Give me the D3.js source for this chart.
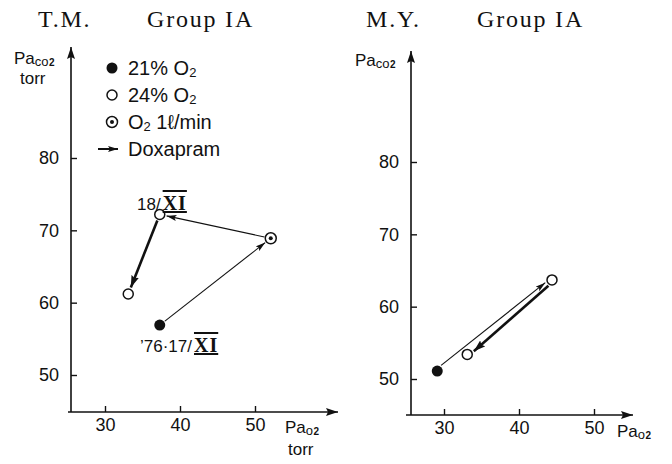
<!DOCTYPE html>
<html lang="en">
<head>
<meta charset="UTF-8">
<title>Group IA Paco2 vs Pao2</title>
<script src="https://d3js.org/d3.v7.min.js"></script>
<style>
    body { margin: 0; background: #fff; }
    svg { font-family: "Liberation Sans", Arial, sans-serif; }
    .tick text { font-size: 18px; fill: #111; }
    .title { font-family: "Liberation Serif", "Times New Roman", serif; font-size: 24px; letter-spacing: 1.8px; fill: #111; }
    .lbl { font-size: 17px; fill: #111; }
    .leg { font-size: 20px; fill: #111; }
</style>
</head>
<body>
<div id="chart"></div>
<script>
    // point data
    const leftKind = ["21", "o2", "24", "24"];
    const leftPao2 = [37.3, 52.1, 37.3, 33.1];
    const leftPaco2 = [56.9, 68.9, 72.2, 61.2];
    const leftArrows = ["thin", "thin", "thick"];

    const rightKind = ["21", "24", "24"];
    const rightPao2 = [29.1, 44.4, 33.1];
    const rightPaco2 = [51.1, 63.7, 53.4];
    const rightArrows = ["thin", "thick"];

    const xTicks = [30, 40, 50];
    const yTicks = [50, 60, 70, 80];

    const legendItems = [
        {kind: "21", text: "21% O", sub: "2"},
        {kind: "24", text: "24% O", sub: "2"},
        {kind: "o2", text: "O", sub: "2", after: " 1ℓ/min"},
        {kind: "arrow", text: "Doxapram"}
    ];

    const width = 672, height = 464;
    const svg = d3.select("#chart").append("svg")
        .attr("width", width)
        .attr("height", height);

    const defs = svg.append("defs");
    defs.append("marker").attr("id", "head-thin")
        .attr("markerUnits", "userSpaceOnUse")
        .attr("viewBox", "0 0 10 6").attr("refX", 10).attr("refY", 3)
        .attr("markerWidth", 10).attr("markerHeight", 6).attr("orient", "auto")
        .append("path").attr("d", "M0,0 L10,3 L0,6 L2,3 Z").attr("fill", "#111");
    defs.append("marker").attr("id", "head-thick")
        .attr("markerUnits", "userSpaceOnUse")
        .attr("viewBox", "0 0 12 8").attr("refX", 12).attr("refY", 4)
        .attr("markerWidth", 12).attr("markerHeight", 8).attr("orient", "auto")
        .append("path").attr("d", "M0,0 L12,4 L0,8 L2,4 Z").attr("fill", "#111");

    function drawMarker(g, kind, x, y) {
        if (kind === "21") {
            g.append("circle").attr("cx", x).attr("cy", y).attr("r", 5.5).attr("fill", "#111");
        } else if (kind === "24") {
            g.append("circle").attr("cx", x).attr("cy", y).attr("r", 5)
                .attr("fill", "#fff").attr("stroke", "#111").attr("stroke-width", 1.5);
        } else {
            g.append("circle").attr("cx", x).attr("cy", y).attr("r", 5.5)
                .attr("fill", "#fff").attr("stroke", "#111").attr("stroke-width", 1.5);
            g.append("circle").attr("cx", x).attr("cy", y).attr("r", 2).attr("fill", "#111");
        }
    }

    // "Pa" + small "co"/"o" + subscript 2
    function gasLabel(g, x, y, mid) {
        const t = g.append("text").attr("class", "lbl").attr("x", x).attr("y", y);
        t.append("tspan").text("Pa");
        t.append("tspan").attr("font-size", 13).attr("dy", 2).text(mid);
        t.append("tspan").attr("font-size", 10).attr("font-weight", "bold").attr("dx", 0.5).text("2");
        return t;
    }

    function panel(cfg) {
        const g = svg.append("g");
        const x = d3.scaleLinear().domain([30, 50]).range(cfg.xRange);
        const y = d3.scaleLinear().domain([50, 80]).range(cfg.yRange);

        // axes with arrow tips
        g.append("line").attr("x1", cfg.axisX0).attr("x2", cfg.axisX1)
            .attr("y1", cfg.axisY0).attr("y2", cfg.axisY0)
            .attr("stroke", "#111").attr("stroke-width", 1.6)
            .attr("marker-end", "url(#head-thick)");
        g.append("line").attr("x1", cfg.yAxisX).attr("x2", cfg.yAxisX)
            .attr("y1", cfg.axisY0).attr("y2", cfg.axisYTop)
            .attr("stroke", "#111").attr("stroke-width", 1.6)
            .attr("marker-end", "url(#head-thick)");

        const xa = g.append("g").attr("transform", `translate(0,${cfg.axisY0})`)
            .call(d3.axisBottom(x).tickValues(xTicks).tickSizeInner(-6).tickSizeOuter(0).tickPadding(6));
        xa.select(".domain").remove();
        xa.selectAll(".tick line").attr("stroke", "#111").attr("stroke-width", 1.4);

        const ya = g.append("g").attr("transform", `translate(${cfg.yAxisX},0)`)
            .call(d3.axisLeft(y).tickValues(yTicks).tickSizeInner(-6).tickSizeOuter(0).tickPadding(12));
        ya.select(".domain").remove();
        ya.selectAll(".tick line").attr("stroke", "#111").attr("stroke-width", 1.4);
        g.selectAll(".tick text").style("font-family", "Liberation Sans, Arial, sans-serif");

        // arrows between consecutive points
        const pts = cfg.pao2.map((v, i) => [x(v), y(cfg.paco2[i])]);
        cfg.arrows.forEach((a, i) => {
            const [x0, y0] = pts[i], [x1, y1] = pts[i + 1];
            const dx = x1 - x0, dy = y1 - y0, len = Math.hypot(dx, dy);
            const ux = dx / len, uy = dy / len;
            const off = cfg.offsets ? cfg.offsets[i] : 0;
            const px = -uy * off, py = ux * off;
            const r0 = 6.5, r1 = 7;
            g.append("line")
                .attr("x1", x0 + ux * r0 + px).attr("y1", y0 + uy * r0 + py)
                .attr("x2", x1 - ux * r1 + px).attr("y2", y1 - uy * r1 + py)
                .attr("stroke", "#111")
                .attr("stroke-width", a === "thick" ? 2.6 : 1.1)
                .attr("marker-end", a === "thick" ? "url(#head-thick)" : "url(#head-thin)");
        });

        pts.forEach((p, i) => drawMarker(g, cfg.kind[i], p[0], p[1]));

        // title
        const t = g.append("text").attr("class", "title").attr("x", cfg.titleX).attr("y", 27);
        t.append("tspan").text(cfg.who);
        t.append("tspan").attr("x", cfg.titleX + cfg.groupDx).text("Group IA");
        return g;
    }

    const left = panel({
        who: "T.M.", titleX: 38, groupDx: 109,
        xRange: [105, 255], yRange: [375, 158],
        axisX0: 68, axisX1: 338, axisY0: 412, yAxisX: 71, axisYTop: 47,
        kind: leftKind, pao2: leftPao2, paco2: leftPaco2, arrows: leftArrows
    });
    const right = panel({
        who: "M.Y.", titleX: 366, groupDx: 111,
        xRange: [444, 594], yRange: [379, 162],
        axisX0: 406, axisX1: 633, axisY0: 415, yAxisX: 411, axisYTop: 51,
        kind: rightKind, pao2: rightPao2, paco2: rightPaco2, arrows: rightArrows,
        offsets: [-2, -2]
    });

    // axis labels
    gasLabel(left, 14, 64, "co");
    left.append("text").attr("class", "lbl").attr("x", 20).attr("y", 84).text("torr");
    gasLabel(left, 285, 433, "o");
    left.append("text").attr("class", "lbl").attr("x", 288).attr("y", 455).text("torr");
    gasLabel(right, 355, 66, "co");
    gasLabel(right, 617, 437, "o");

    // date labels with roman numeral months
    function dateLabel(x, y, pre) {
        const t = left.append("text").attr("class", "lbl").attr("x", x).attr("y", y)
            .attr("font-size", 18);
        t.append("tspan").text(pre);
        t.append("tspan").attr("font-family", "Liberation Serif, serif").attr("font-weight", "bold")
            .attr("font-size", 20).attr("dx", 2).attr("letter-spacing", 1)
            .style("text-decoration", "underline overline").text("XI");
    }
    dateLabel(137, 210, "18/");
    dateLabel(140, 352, "’76·17/");

    // legend
    const leg = left.append("g");
    legendItems.forEach((d, i) => {
        const yy = 68 + i * 27;
        if (d.kind === "arrow") {
            leg.append("line").attr("x1", 98).attr("x2", 118).attr("y1", yy).attr("y2", yy)
                .attr("stroke", "#111").attr("stroke-width", 2)
                .attr("marker-end", "url(#head-thin)");
        } else {
            drawMarker(leg, d.kind, 112, yy);
        }
        const t = leg.append("text").attr("class", "leg").attr("x", 128).attr("y", yy + 7);
        t.append("tspan").text(d.text);
        if (d.sub) t.append("tspan").attr("font-size", 13).attr("dy", 2).text(d.sub);
        if (d.after) t.append("tspan").attr("dy", -2).text(d.after);
    });
</script>
</body>
</html>
